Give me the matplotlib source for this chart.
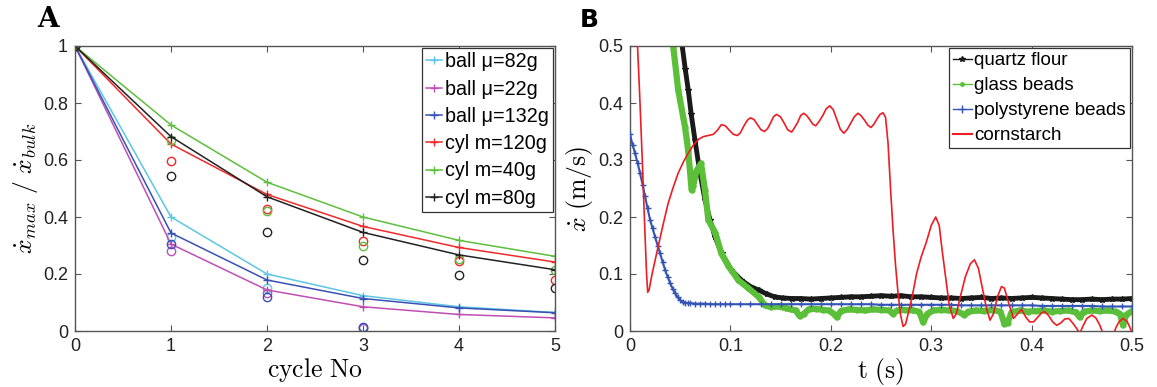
import numpy as np
import matplotlib
matplotlib.use("Agg")
import matplotlib.pyplot as plt
from matplotlib.lines import Line2D

plt.rcParams['font.family'] = ['Liberation Sans', 'DejaVu Sans']
plt.rcParams['mathtext.fontset'] = 'cm'

# ---------------- Panel A data ----------------
cycles = [0, 1, 2, 3, 4, 5]
labels_A = ['ball \u03bc=82g', 'ball \u03bc=22g', 'ball \u03bc=132g',
            'cyl m=120g', 'cyl m=40g', 'cyl m=80g']
colors_A = ['#5cc6e4', '#c04fb4', '#3a50b4', '#ee2a2a', '#5ebf3c', '#222222']

line_ball82 = [1, 0.40, 0.200, 0.124, 0.085, 0.065]
line_ball22 = [1, 0.305, 0.144, 0.085, 0.058, 0.046]
line_ball132 = [1, 0.344, 0.179, 0.114, 0.081, 0.064]
line_cyl120 = [1, 0.656, 0.479, 0.367, 0.293, 0.242]
line_cyl40 = [1, 0.723, 0.522, 0.400, 0.318, 0.262]
line_cyl80 = [1, 0.682, 0.471, 0.346, 0.267, 0.215]

circ_ball82 = [1, 0.330, 0.150, 0.012, np.nan, np.nan]
circ_ball22 = [1, 0.282, 0.135, 0.010, np.nan, np.nan]
circ_ball132 = [1, 0.305, 0.120, 0.015, np.nan, np.nan]
circ_cyl120 = [1, 0.595, 0.427, 0.316, 0.246, 0.178]
circ_cyl40 = [1, 0.670, 0.420, 0.298, 0.253, 0.213]
circ_cyl80 = [1, 0.545, 0.348, 0.248, 0.196, 0.150]

lines_A = [line_ball82, line_ball22, line_ball132, line_cyl120, line_cyl40, line_cyl80]
circs_A = [circ_ball82, circ_ball22, circ_ball132, circ_cyl120, circ_cyl40, circ_cyl80]

# ---------------- Panel B data ----------------
quartz_t = [0.050, 0.052, 0.055, 0.058, 0.061, 0.0647, 0.0697, 0.0747, 0.0797, 0.0847,
            0.0913, 0.101, 0.111, 0.120, 0.128, 0.136, 0.144, 0.152, 0.161,
            0.17, 0.18, 0.19, 0.20, 0.21, 0.22, 0.23, 0.24, 0.25, 0.26, 0.27, 0.28,
            0.29, 0.30, 0.31, 0.32, 0.33, 0.34, 0.35, 0.36, 0.37, 0.38, 0.39, 0.40,
            0.41, 0.42, 0.43, 0.44, 0.45, 0.46, 0.47, 0.48, 0.49, 0.50]
quartz_v = [0.53, 0.50, 0.46, 0.423, 0.38, 0.335, 0.277, 0.230, 0.195, 0.165,
            0.136, 0.107, 0.089, 0.078, 0.072, 0.065, 0.060, 0.058, 0.057,
            0.057, 0.056, 0.057, 0.058, 0.059, 0.060, 0.060, 0.061, 0.062, 0.061, 0.062, 0.060,
            0.060, 0.059, 0.058, 0.058, 0.057, 0.058, 0.059, 0.057, 0.058, 0.057, 0.058, 0.059,
            0.058, 0.057, 0.056, 0.055, 0.055, 0.056, 0.055, 0.056, 0.056, 0.057]

glass_t = [0.041, 0.043, 0.048, 0.0548, 0.058, 0.0614, 0.063, 0.066, 0.0707, 0.0747,
           0.078, 0.085, 0.091, 0.098, 0.108, 0.118, 0.128, 0.1345,
           0.140, 0.148, 0.155, 0.160, 0.165, 0.169, 0.173, 0.178, 0.185, 0.192, 0.198,
           0.203, 0.206, 0.210, 0.218, 0.226, 0.234, 0.242, 0.250, 0.258, 0.262, 0.266,
           0.274, 0.282, 0.288, 0.292, 0.296, 0.302, 0.310, 0.318, 0.326, 0.333, 0.337,
           0.345, 0.353, 0.361, 0.369, 0.373, 0.376, 0.380, 0.388, 0.396, 0.404, 0.412,
           0.420, 0.428, 0.436, 0.444, 0.448, 0.452, 0.460, 0.468, 0.476, 0.484, 0.488,
           0.491, 0.494, 0.500]
glass_v = [0.53, 0.50, 0.423, 0.358, 0.316, 0.247, 0.255, 0.280, 0.294, 0.247,
           0.195, 0.172, 0.136, 0.114, 0.089, 0.075, 0.060, 0.045,
           0.042, 0.043, 0.040, 0.038, 0.036, 0.026, 0.030, 0.038, 0.039, 0.037, 0.036,
           0.030, 0.024, 0.035, 0.038, 0.037, 0.036, 0.038, 0.037, 0.036, 0.030, 0.036,
           0.037, 0.036, 0.034, 0.015, 0.030, 0.036, 0.037, 0.036, 0.035, 0.028, 0.034,
           0.036, 0.035, 0.037, 0.034, 0.012, 0.014, 0.033, 0.036, 0.034, 0.035, 0.036,
           0.034, 0.035, 0.036, 0.033, 0.024, 0.034, 0.036, 0.035, 0.036, 0.034, 0.030,
           0.010, 0.028, 0.035]

poly_t = [0.000, 0.0025, 0.005, 0.0075, 0.010, 0.0125, 0.015, 0.0175, 0.020, 0.0225,
          0.025, 0.0275, 0.030, 0.0325, 0.035, 0.0375, 0.040, 0.0425, 0.045, 0.0475,
          0.050, 0.0525, 0.055, 0.0575, 0.060, 0.065, 0.070, 0.075, 0.080, 0.085, 0.090,
          0.095, 0.100, 0.110, 0.120, 0.130, 0.140, 0.150, 0.160, 0.170, 0.180, 0.190,
          0.200, 0.210, 0.220, 0.230, 0.240, 0.250, 0.260, 0.270, 0.280, 0.290, 0.300,
          0.310, 0.320, 0.330, 0.340, 0.350, 0.360, 0.370, 0.380, 0.390, 0.400, 0.410,
          0.420, 0.430, 0.440, 0.450, 0.460, 0.470, 0.480, 0.490, 0.500]
poly_v = [0.345, 0.327, 0.312, 0.295, 0.277, 0.257, 0.236, 0.215, 0.195, 0.180,
          0.165, 0.150, 0.136, 0.121, 0.107, 0.095, 0.084, 0.074, 0.066, 0.059,
          0.054, 0.051, 0.050, 0.049, 0.049, 0.048, 0.048, 0.048, 0.047, 0.047, 0.047,
          0.047, 0.047, 0.047, 0.047, 0.047, 0.047, 0.047, 0.047, 0.047, 0.047, 0.047,
          0.047, 0.047, 0.047, 0.047, 0.047, 0.046, 0.046, 0.046, 0.046, 0.046, 0.046,
          0.046, 0.046, 0.045, 0.045, 0.045, 0.045, 0.045, 0.045, 0.045, 0.045, 0.044,
          0.044, 0.044, 0.044, 0.044, 0.044, 0.043, 0.043, 0.043, 0.043]

corn_t = [0.0070, 0.0095, 0.012, 0.0145, 0.0165, 0.0176, 0.019, 0.022, 0.028, 0.033,
          0.038, 0.043, 0.048, 0.053, 0.058, 0.063, 0.068, 0.073, 0.078, 0.083,
          0.087, 0.091, 0.095, 0.099, 0.103, 0.107, 0.110, 0.1135, 0.117, 0.120,
          0.1235, 0.127, 0.1305, 0.134, 0.137, 0.140, 0.143, 0.146, 0.1497, 0.1535,
          0.157, 0.161, 0.164, 0.167, 0.170, 0.173, 0.176, 0.179, 0.182, 0.185,
          0.1885, 0.192, 0.1955, 0.199, 0.2025, 0.206, 0.2095, 0.213, 0.2165, 0.220,
          0.2235, 0.227, 0.230, 0.2335, 0.237, 0.240, 0.243, 0.246, 0.249, 0.252,
          0.2545, 0.257, 0.2595, 0.262, 0.2645, 0.267, 0.2695, 0.272, 0.2745, 0.277,
          0.281, 0.2855, 0.290, 0.295, 0.300, 0.3045, 0.308, 0.311, 0.315, 0.318,
          0.322, 0.325, 0.329, 0.334, 0.339, 0.343, 0.347, 0.351, 0.355, 0.3586,
          0.362, 0.366, 0.370, 0.373, 0.377, 0.382, 0.386, 0.390, 0.394, 0.398,
          0.402, 0.406, 0.410, 0.413, 0.417, 0.421, 0.425, 0.429, 0.433, 0.437,
          0.441, 0.445, 0.448, 0.451, 0.455, 0.460, 0.464, 0.468, 0.471, 0.482,
          0.484, 0.487, 0.491, 0.495, 0.498, 0.500]
corn_v = [0.52, 0.42, 0.31, 0.19, 0.10, 0.068, 0.072, 0.100, 0.148, 0.187,
          0.224, 0.252, 0.277, 0.296, 0.312, 0.326, 0.336, 0.341, 0.343, 0.345,
          0.352, 0.362, 0.360, 0.352, 0.345, 0.343, 0.348, 0.360, 0.370, 0.374,
          0.371, 0.362, 0.353, 0.350, 0.355, 0.365, 0.376, 0.380, 0.376, 0.365,
          0.353, 0.349, 0.357, 0.366, 0.378, 0.382, 0.378, 0.371, 0.363, 0.360,
          0.368, 0.378, 0.390, 0.395, 0.388, 0.371, 0.354, 0.347, 0.354, 0.365,
          0.376, 0.382, 0.378, 0.370, 0.361, 0.357, 0.363, 0.372, 0.380, 0.383,
          0.375, 0.330, 0.250, 0.177, 0.115, 0.066, 0.028, 0.008, 0.012, 0.030,
          0.060, 0.101, 0.130, 0.155, 0.185, 0.200, 0.185, 0.140, 0.085, 0.045,
          0.022, 0.030, 0.060, 0.095, 0.118, 0.125, 0.110, 0.075, 0.040, 0.019,
          0.030, 0.060, 0.078, 0.075, 0.050, 0.022, 0.030, 0.038, 0.025, 0.016,
          0.016, 0.024, 0.032, 0.034, 0.027, 0.016, 0.010, 0.014, 0.021, 0.022,
          0.014, 0.004, -0.004, 0.008, 0.022, 0.028, 0.023, 0.010, -0.004, -0.004,
          0.006, 0.016, 0.022, 0.017, 0.006, -0.004]

labels_B = ['quartz flour', 'glass beads', 'polystyrene beads', 'cornstarch']
col_q, col_g, col_p, col_c = '#1a1a1a', '#5cbf3a', '#3454b4', '#ee1c24'

# ---------------- Figure ----------------
fig = plt.figure(figsize=(11.57, 3.87), dpi=100)
axA = fig.add_axes([75/1157, 1-331/387, 480/1157, 285/387])
axB = fig.add_axes([630/1157, 1-331/387, 502/1157, 285/387])

spine_col = '#555555'
for ax in (axA, axB):
    for s in ax.spines.values():
        s.set_color(spine_col)
        s.set_linewidth(1.0)
    ax.tick_params(direction='in', top=True, right=True, length=4, width=0.8,
                   color=spine_col, labelsize=13, labelcolor='#222222', pad=5)

# Panel A
handlesA = []
for vals, circ, col, lab in zip(lines_A, circs_A, colors_A, labels_A):
    h, = axA.plot(cycles, vals, '-', color=col, lw=1.1, marker='+', ms=6, mew=1.0, label=lab)
    axA.plot(cycles, circ, 'o', mfc='none', mec=col, ms=6, mew=1.0, ls='none')
    handlesA.append(h)
axA.set_xlim(0, 5)
axA.set_ylim(0, 1)
axA.set_xticks([0, 1, 2, 3, 4, 5])
axA.set_yticks([0, 0.2, 0.4, 0.6, 0.8, 1])
axA.set_yticklabels(['0', '0.2', '0.4', '0.6', '0.8', '1'])
axA.set_xlabel(r'$\mathrm{cycle\ No}$', fontsize=18.5, labelpad=1)
axA.set_ylabel(r'$\dot{x}_{max}\ /\ \dot{x}_{bulk}$', fontsize=18.5, labelpad=2)
legA = axA.legend(handles=handlesA, loc='upper right', fontsize=14.2, handlelength=0.8,
                  handletextpad=0.15, borderpad=0.2, labelspacing=0.42, borderaxespad=0.12,
                  fancybox=False, framealpha=1, edgecolor='#333333')
legA.get_frame().set_linewidth(0.9)

# Panel B
axB.plot(corn_t, corn_v, '-', color=col_c, lw=1.2, zorder=4)
axB.plot(poly_t, poly_v, '-', color=col_p, lw=1.5, marker='+', ms=5, mew=1.0, zorder=3)
axB.plot(glass_t, glass_v, '-', color=col_g, lw=4.5, marker='.', ms=7, zorder=2,
         solid_capstyle='round', solid_joinstyle='round')
axB.plot(quartz_t, quartz_v, '-', color=col_q, lw=3.5, marker='*', ms=4, zorder=1.5,
         solid_joinstyle='round')
axB.set_xlim(0, 0.5)
axB.set_ylim(0, 0.5)
axB.set_xticks([0, 0.1, 0.2, 0.3, 0.4, 0.5])
axB.set_xticklabels(['0', '0.1', '0.2', '0.3', '0.4', '0.5'])
axB.set_yticks([0, 0.1, 0.2, 0.3, 0.4, 0.5])
axB.set_yticklabels(['0', '0.1', '0.2', '0.3', '0.4', '0.5'])
axB.set_xlabel(r'$\mathrm{t\ (s)}$', fontsize=18.5, labelpad=1)
axB.set_ylabel(r'$\dot{x}\ \mathrm{(m/s)}$', fontsize=18.5, labelpad=2)

handlesB = [Line2D([], [], color=col_q, lw=1, marker='*', ms=4),
            Line2D([], [], color=col_g, lw=1, marker='.', ms=5),
            Line2D([], [], color=col_p, lw=1, marker='+', ms=6),
            Line2D([], [], color=col_c, lw=1.5)]
legB = axB.legend(handles=handlesB, labels=labels_B, loc='upper right', fontsize=13.5,
                  handlelength=1.0, handletextpad=0.15, borderpad=0.2, labelspacing=0.42,
                  borderaxespad=0.12, fancybox=False, framealpha=1, edgecolor='#333333')
legB.get_frame().set_linewidth(0.9)

# Panel letters
fig.text(37/1157, 1-27/387, 'A', fontsize=20, fontweight='bold', family='DejaVu Serif')
fig.text(580/1157, 1-27/387, 'B', fontsize=18, fontweight='bold', family='DejaVu Sans')

fig.savefig('out.png', dpi=100)
